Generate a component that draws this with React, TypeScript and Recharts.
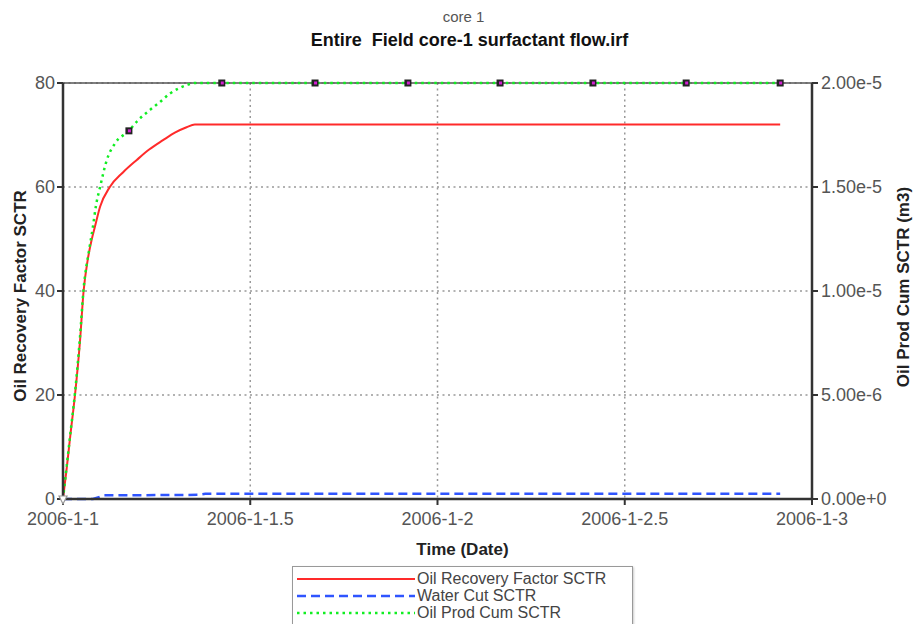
import { ComposedChart, Line, Scatter, XAxis, YAxis, CartesianGrid, ReferenceLine } from 'recharts';

// time axis (days after 2006-1-1)
const dayTicks = [0, 0.5, 1, 1.5, 2];
const dayLabels = ['2006-1-1', '2006-1-1.5', '2006-1-2', '2006-1-2.5', '2006-1-3'];
const rfTicks = [0, 20, 40, 60, 80];
const cumTicks = [0, 5e-6, 1e-5, 1.5e-5, 2e-5];

// Oil Recovery Factor SCTR (left axis)
const rfTime = [0, 0.01, 0.02, 0.032, 0.045, 0.055, 0.066, 0.077, 0.085, 0.099, 0.125, 0.16, 0.197, 0.23, 0.267, 0.3, 0.33, 0.352, 1.0, 1.915];
const rfValues = [0, 6, 12.5, 20, 30, 40, 46, 50, 52.3, 56.2, 60, 62.8, 65.2, 67.2, 69, 70.5, 71.5, 72, 72, 72];

// Water Cut SCTR (left axis)
const wcTime = [0, 0.08, 0.11, 0.36, 0.38, 1.0, 1.915];
const wcValues = [0, 0, 0.7, 0.8, 1.0, 1.0, 1.0];

// Oil Prod Cum SCTR, m3 (right axis)
const cumTime = [0, 0.01, 0.02, 0.032, 0.045, 0.055, 0.07, 0.08, 0.088, 0.099, 0.117, 0.139, 0.176, 0.2, 0.232, 0.26, 0.286, 0.31, 0.33, 0.352, 1.0, 1.915];
const cumValues = [0, 1.6e-6, 3.2e-6, 5.1e-6, 7.7e-6, 1.01e-5, 1.2e-5, 1.31e-5, 1.41e-5, 1.5e-5, 1.63e-5, 1.71e-5, 1.77e-5, 1.82e-5, 1.87e-5, 1.91e-5, 1.95e-5, 1.975e-5, 1.99e-5, 2e-5, 2e-5, 2e-5];

// symbols on the cumulative curve
const markerTime = [0.176, 0.424, 0.673, 0.921, 1.167, 1.415, 1.664, 1.915];
const markerValues = [1.77e-5, 2e-5, 2e-5, 2e-5, 2e-5, 2e-5, 2e-5, 2e-5];

const rfData = rfTime.map((t, i) => ({ t, v: rfValues[i] }));
const wcData = wcTime.map((t, i) => ({ t, v: wcValues[i] }));
const cumData = cumTime.map((t, i) => ({ t, v: cumValues[i] }));
const markerData = markerTime.map((t, i) => ({ t, v: markerValues[i] }));
const originData = [{ t: 0, v: 0 }];

const SERIES = [
  { name: 'Oil Recovery Factor SCTR', color: '#ff2a2a', dash: undefined as string | undefined, width: 2 },
  { name: 'Water Cut SCTR', color: '#2f55ff', dash: '9 5', width: 2.5 },
  { name: 'Oil Prod Cum SCTR', color: '#11ee22', dash: '2.5 4', width: 2.5 },
];

const FONT = '"Liberation Sans", Arial, sans-serif';
const tickStyle = { fill: '#555', fontSize: 18, fontFamily: FONT };
const labelStyle = { fill: '#222', fontSize: 17, fontWeight: 'bold', fontFamily: FONT };

function MarkerShape(props: any) {
  const { cx, cy } = props;
  return (
    <g>
      <rect x={cx - 3.5} y={cy - 3.5} width={7} height={7} fill="#222" />
      <rect x={cx - 1} y={cy - 1.5} width={3} height={3} fill="#d020d0" />
    </g>
  );
}

function OriginShape(props: any) {
  const { cx, cy } = props;
  return <path d={`M${cx - 4},${cy - 3} L${cx + 4},${cy - 3} L${cx},${cy + 5} Z`} fill="#fff" stroke="#999" strokeWidth={1.2} />;
}

export default function App() {
  return (
    <div style={{ position: 'absolute', left: 0, top: 0, width: 915, height: 624, overflow: 'hidden', background: '#fff', fontFamily: FONT }}>
      <div style={{ position: 'absolute', left: 0, width: 915, top: 8, textAlign: 'center', fontSize: 15, color: '#555', paddingLeft: 6 }}>core 1</div>
      <div style={{ position: 'absolute', left: 0, width: 915, top: 30, textAlign: 'center', fontSize: 18, fontWeight: 'bold', color: '#111', whiteSpace: 'pre', paddingLeft: 12 }}>
        Entire  Field core-1 surfactant flow.irf
      </div>

      <ComposedChart width={915} height={624} margin={{ top: 83, right: 0, bottom: 65, left: 0 }} style={{ position: 'absolute', left: 0, top: 0 }}>
        <CartesianGrid yAxisId="left" stroke="#999" strokeDasharray="2 3.5" strokeWidth={1.5} />
        <XAxis
          type="number"
          dataKey="t"
          domain={[0, 2]}
          ticks={dayTicks}
          interval={0}
          tickFormatter={(v: number) => dayLabels[dayTicks.indexOf(v)]}
          height={60}
          axisLine={{ stroke: '#333', strokeWidth: 2.5 }}
          tickLine={{ stroke: '#333', strokeWidth: 2 }}
          tickSize={6}
          tickMargin={7}
          tick={tickStyle}
          label={{ value: 'Time (Date)', position: 'insideBottom', dx: 25, offset: 4, style: labelStyle }}
        />
        <YAxis
          yAxisId="left"
          domain={[0, 80]}
          ticks={rfTicks}
          interval={0}
          width={63}
          axisLine={{ stroke: '#333', strokeWidth: 2.5 }}
          tickLine={{ stroke: '#333', strokeWidth: 2 }}
          tickSize={6}
          tickMargin={2}
          tick={tickStyle}
          label={{ value: 'Oil Recovery Factor SCTR', angle: -90, position: 'center', dx: -12, dy: 5, style: labelStyle }}
        />
        <YAxis
          yAxisId="right"
          orientation="right"
          domain={[0, 2e-5]}
          ticks={cumTicks}
          interval={0}
          width={103}
          tickFormatter={(v: number) => v.toExponential(2)}
          axisLine={{ stroke: '#333', strokeWidth: 2.5 }}
          tickLine={{ stroke: '#333', strokeWidth: 2 }}
          tickSize={6}
          tickMargin={3}
          tick={tickStyle}
          label={{ value: 'Oil Prod Cum SCTR (m3)', angle: -90, position: 'center', dx: 39, dy: -4, style: labelStyle }}
        />
        <ReferenceLine yAxisId="left" y={80} stroke="#555" strokeWidth={1.5} />

        <Line yAxisId="left" data={rfData} dataKey="v" type="monotone" stroke={SERIES[0].color} strokeWidth={SERIES[0].width} dot={false} isAnimationActive={false} />
        <Line yAxisId="left" data={wcData} dataKey="v" type="linear" stroke={SERIES[1].color} strokeWidth={SERIES[1].width} strokeDasharray={SERIES[1].dash} dot={false} isAnimationActive={false} />
        <Line yAxisId="right" data={cumData} dataKey="v" type="monotone" stroke={SERIES[2].color} strokeWidth={SERIES[2].width} strokeDasharray={SERIES[2].dash} dot={false} isAnimationActive={false} />
        <Scatter yAxisId="right" data={markerData} dataKey="v" shape={MarkerShape} isAnimationActive={false} />
        <Scatter yAxisId="left" data={originData} dataKey="v" shape={OriginShape} isAnimationActive={false} />
      </ComposedChart>

      {/* legend box */}
      <div style={{ position: 'absolute', left: 292, top: 566, width: 339, height: 70, border: '1px solid #999', boxShadow: '1px 1px 2px #ccc', background: '#fff' }}>
        {SERIES.map((s, i) => (
          <div key={s.name} style={{ position: 'absolute', left: 0, top: 3 + i * 17, height: 17, display: 'flex', alignItems: 'center' }}>
            <svg width={124} height={17} style={{ display: 'block' }}>
              <line x1={4} x2={122} y1={9} y2={9} stroke={s.color} strokeWidth={s.width} strokeDasharray={s.dash} />
            </svg>
            <span style={{ fontSize: 16, color: '#444', lineHeight: '17px' }}>{s.name}</span>
          </div>
        ))}
      </div>
    </div>
  );
}
